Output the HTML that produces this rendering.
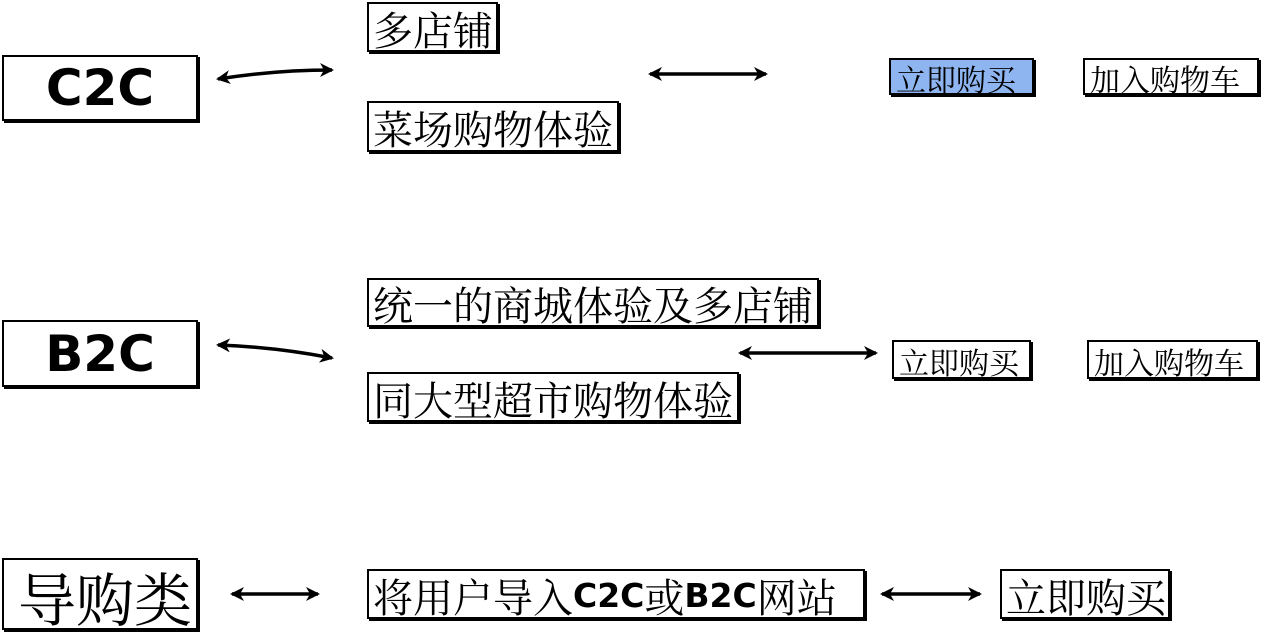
<!DOCTYPE html>
<html><head><meta charset="utf-8"><style>
body{margin:0;width:1264px;height:633px;background:#fff;position:relative;overflow:hidden}
.b{position:absolute;box-sizing:border-box;border:2px solid #000;box-shadow:2px 2px 0 #000;background:#fff;display:flex;align-items:center;justify-content:flex-start;padding-left:4px;padding-top:3px;font-family:"Noto Serif CJK SC","Liberation Serif",serif;color:#000;white-space:nowrap;line-height:1;overflow:visible}
.big{font-family:"DejaVu Sans","Liberation Sans",sans-serif;font-weight:bold;font-size:50px;justify-content:center;padding:0}
.m{font-size:40px}
.s{font-size:30px;padding-left:5px}
.lat{font-family:"DejaVu Sans",sans-serif;font-weight:bold;font-size:33px}
svg{position:absolute;left:0;top:0}
</style></head><body>
<div class="b big" style="left:2px;top:55px;width:196px;height:66px">C2C</div>
<div class="b m" style="left:367px;top:2px;width:131px;height:50px">多店铺</div>
<div class="b m" style="left:367px;top:101px;width:252px;height:51px">菜场购物体验</div>
<div class="b s" style="left:889px;top:58px;width:145px;height:37px;background:#8fb5f0">立即购买</div>
<div class="b s" style="left:1083px;top:58px;width:176px;height:37px">加入购物车</div>

<div class="b big" style="left:2px;top:320px;width:196px;height:67px">B2C</div>
<div class="b m" style="left:367px;top:278px;width:452px;height:49px">统一的商城体验及多店铺</div>
<div class="b m" style="left:367px;top:372px;width:372px;height:50px">同大型超市购物体验</div>
<div class="b s" style="left:892px;top:340px;width:139px;height:39px">立即购买</div>
<div class="b s" style="left:1087px;top:340px;width:171px;height:39px">加入购物车</div>

<div class="b" style="left:2px;top:558px;width:196px;height:72px;font-size:58px;padding-left:14px">导购类</div>
<div class="b m" style="left:367px;top:569px;width:498px;height:50px">将用户导入<span class="lat">C2C</span>或<span class="lat">B2C</span>网站</div>
<div class="b m" style="left:1000px;top:569px;width:170px;height:50px">立即购买</div>

<svg width="1264" height="633">
<defs><marker id="a2" markerWidth="14" markerHeight="14" refX="12" refY="7" orient="auto-start-reverse" markerUnits="userSpaceOnUse"><path d="M0,0 L14,7 L0,14 L4,7 Z" fill="#000"/></marker></defs>
<g stroke="#000" stroke-width="3.5" fill="none" marker-start="url(#a2)" marker-end="url(#a2)">
<path d="M218,79 Q275,70 332,70"/>
<path d="M650,74 L766,74"/>
<path d="M218,345 Q275,347 332,358"/>
<path d="M740,353 L876,353"/>
<path d="M232,594 L318,594"/>
<path d="M882,594 L980,594"/>
</g>
</svg>
</body></html>
